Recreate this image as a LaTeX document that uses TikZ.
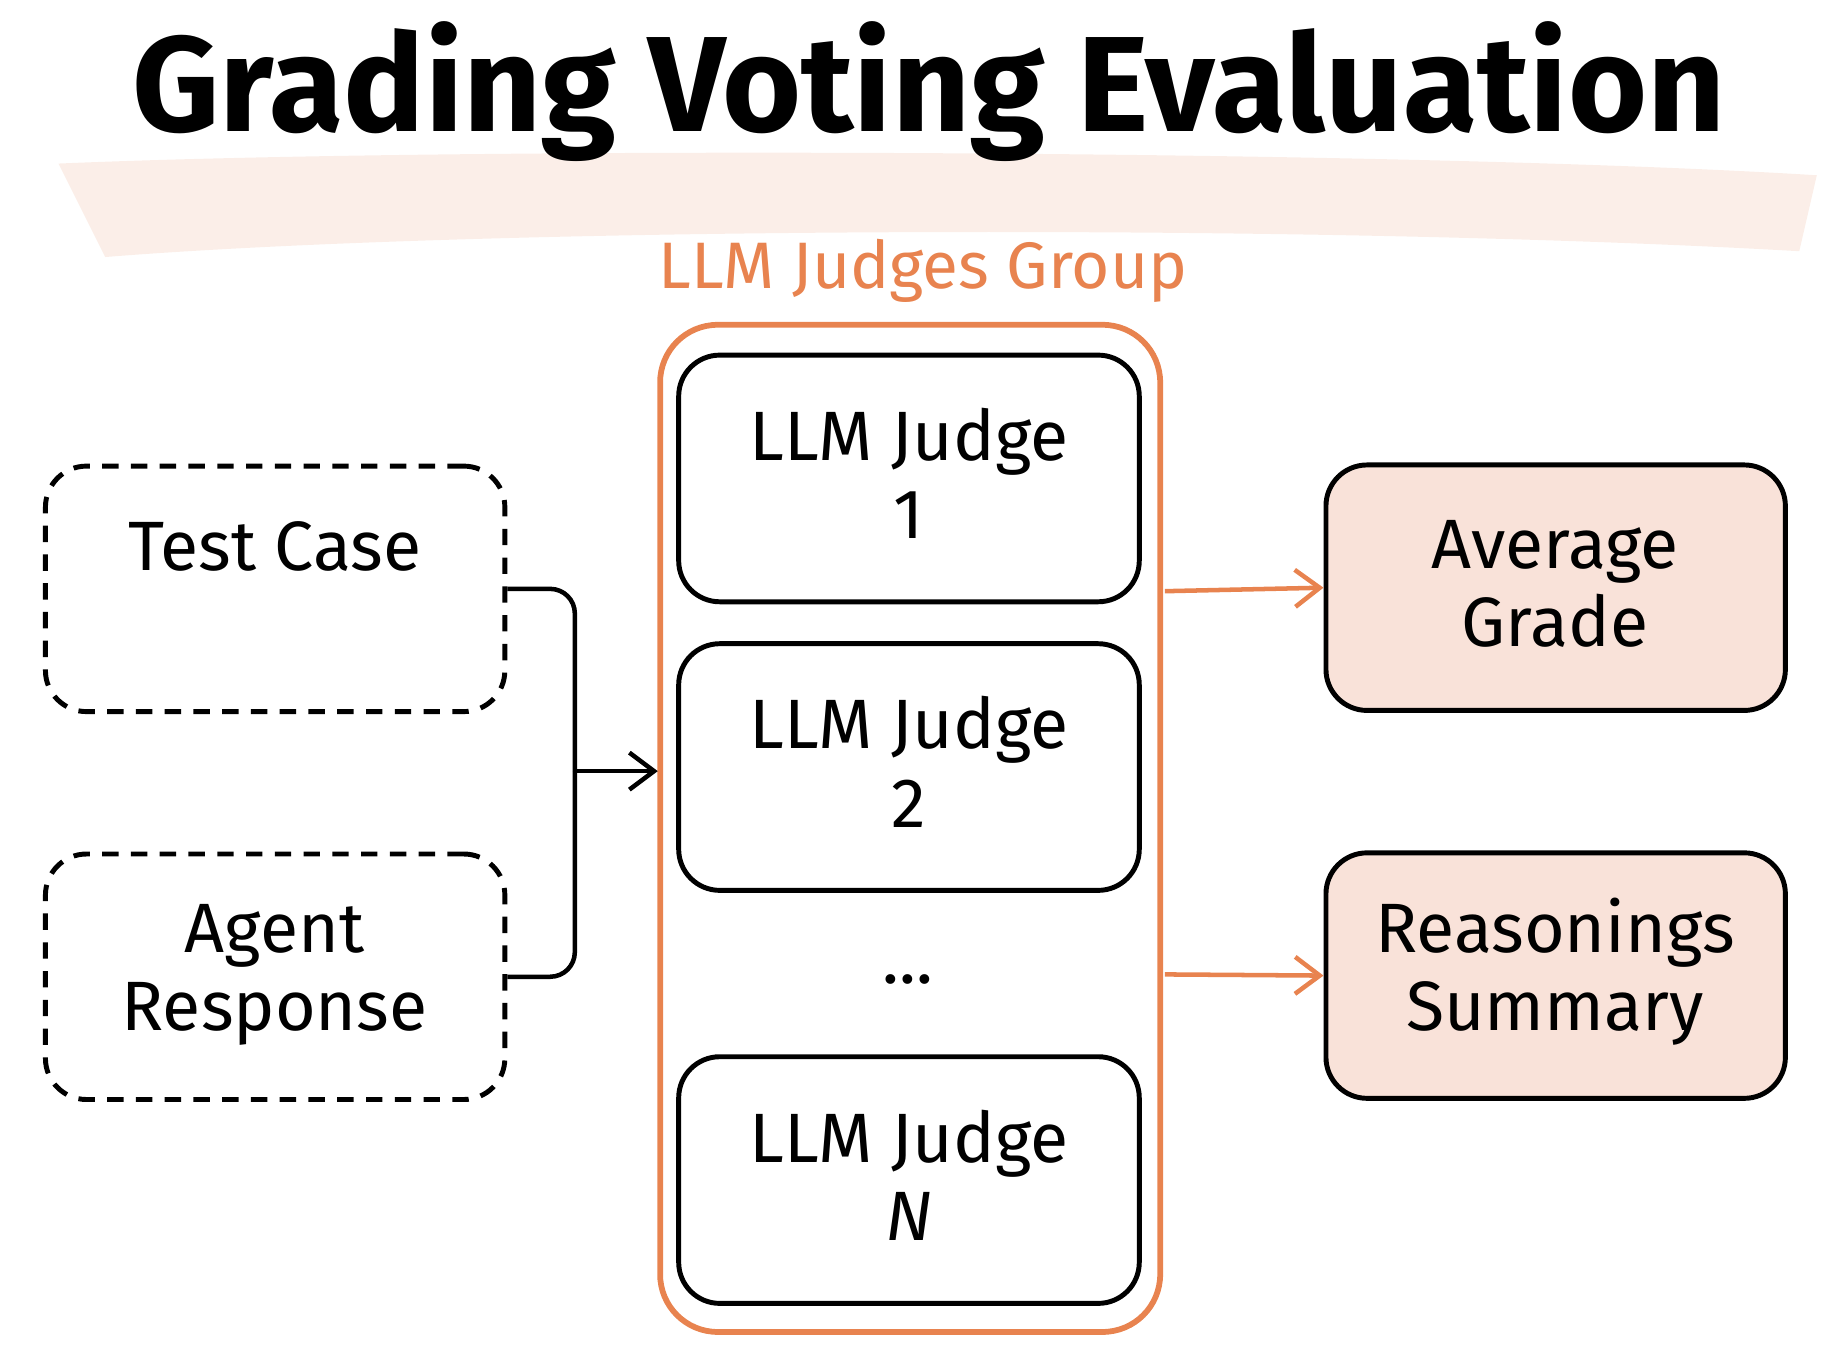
\documentclass[tikz,border=0pt]{standalone}
\usepackage{fontspec}
\setmainfont{Fira Sans}
\usetikzlibrary{arrows.meta}
\definecolor{org}{HTML}{E8834F}
\definecolor{peach}{HTML}{F9E2D9}
\definecolor{band}{HTML}{FBEEE8}
\begin{document}
\begin{tikzpicture}[x=0.01cm,y=-0.01cm,
  box/.style={draw,line width=1.2pt,rounded corners=10pt,minimum width=3.93cm,minimum height=2.1cm},
  txt/.style={font=\fontsize{17}{19}\selectfont,align=center},
  conn/.style={line width=1.1pt,rounded corners=6pt},
  arr/.style={-{Straight Barb[length=6pt,width=9pt]}}]
\useasboundingbox (0,0) rectangle (1568,1157);
\fill[band] (50,140) .. controls (400,125) and (1200,128) .. (1555,150) -- (1540,215) .. controls (1100,190) and (400,195) .. (90,220) -- cycle;
\node[font=\fontsize{33}{40}\selectfont\bfseries] (title) at (795,78) {Grading Voting Evaluation};
\node[txt,text=org,font=\fontsize{16}{19}\selectfont] (grp) at (790,232) {LLM Judges Group};
\draw[org,line width=1.4pt,rounded corners=14pt] (565,278) rectangle (993,1140);
\node[box,minimum width=3.94cm,minimum height=2.11cm] (j1) at (778,409.5) {};
\node[txt] at (778,405) {LLM Judge\\1};
\node[box,minimum width=3.94cm,minimum height=2.11cm] (j2) at (778,656.5) {};
\node[txt] at (778,652) {LLM Judge\\2};
\node[txt] (dots) at (777,838) {...};
\node[box,minimum width=3.94cm,minimum height=2.11cm] (jn) at (778,1010) {};
\node[txt] at (778,1006) {LLM Judge\\\textit{N}};
\node[box,dash pattern=on 4pt off 3pt] (tc) at (235.5,504) {};
\node[txt] at (235,468) {Test Case};
\node[box,dash pattern=on 4pt off 3pt] (ar) at (235.5,836) {};
\node[txt] at (235,834) {Agent\\Response};
\node[box,fill=peach] (ag) at (1331.5,503) {};
\node[txt] at (1331,500) {Average\\Grade};
\node[box,fill=peach] (rs) at (1331.5,835) {};
\node[txt] at (1331,832) {Reasonings\\Summary};
\coordinate (m) at (492,660);
\coordinate (gin) at (563,660);
\draw[conn] (tc.east) -| (m);
\draw[conn] (ar.east) -| (m);
\draw[line width=1.1pt,arr] (m) -- (gin);
\draw[org,line width=1.1pt,arr] (997,506) -- (ag.west);
\draw[org,line width=1.1pt,arr] (997,834) -- (rs.west);
\end{tikzpicture}
\end{document}
